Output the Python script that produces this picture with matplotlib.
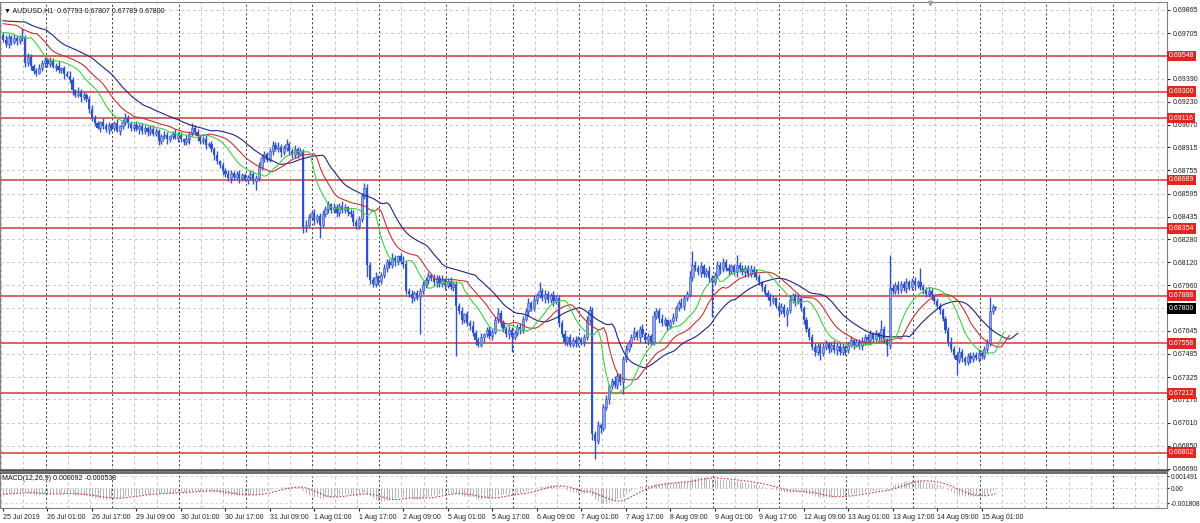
import numpy as np
import matplotlib
matplotlib.use('Agg')
import matplotlib.pyplot as plt
import matplotlib.transforms as mtransforms

plt.rcParams['font.family'] = ['Liberation Sans', 'DejaVu Sans']

# ---- AUDUSD H1, 25 Jul 2019 09:00 .. 15 Aug 2019, prices in pips (1e-4) ----
first_open = 6969
close_pips = [
    6966, 6963, 6968, 6964, 6967, 6965, 6968, 6967, 6950, 6954, 6948, 6944, 6943, 6946, 6950, 6952, 6949, 6951, 6947, 6948,
    6945, 6946, 6942, 6941, 6938, 6931, 6928, 6930, 6926, 6928, 6925, 6918, 6912, 6908, 6905, 6909, 6906, 6904, 6907, 6905,
    6908, 6903, 6906, 6909, 6912, 6908, 6905, 6907, 6904, 6906, 6903, 6905, 6902, 6904, 6901, 6903, 6896, 6899, 6900, 6897,
    6899, 6901, 6898, 6900, 6897, 6895, 6897, 6901, 6905, 6902, 6899, 6896, 6897, 6893, 6894, 6890, 6886, 6882, 6879, 6875,
    6873, 6870, 6874, 6871, 6873, 6870, 6872, 6869, 6871, 6873, 6868, 6870, 6878, 6884, 6887, 6883, 6889, 6893, 6890, 6892,
    6888, 6891, 6894, 6889, 6886, 6890, 6887, 6889, 6836, 6838, 6843, 6846, 6841, 6844, 6838, 6845, 6849, 6852, 6848, 6850,
    6846, 6851, 6848, 6850, 6847, 6845, 6840, 6837, 6842, 6858, 6863, 6810, 6800, 6797, 6802, 6799, 6803, 6808, 6812, 6810,
    6815, 6812, 6816, 6813, 6811, 6792, 6790, 6787, 6791, 6788, 6792, 6796, 6800, 6803, 6801, 6798, 6801, 6797, 6800, 6796,
    6799, 6795, 6797, 6782, 6778, 6772, 6776, 6770, 6768, 6763, 6758, 6755, 6760, 6762, 6765, 6761, 6764, 6772, 6777, 6770,
    6766, 6762, 6765, 6760, 6763, 6767, 6765, 6773, 6778, 6784, 6780, 6786, 6789, 6792, 6787, 6790, 6786, 6789, 6785, 6787,
    6770, 6762, 6757, 6760, 6755, 6758, 6756, 6759, 6757, 6760, 6772, 6779, 6693, 6688, 6699, 6697, 6712, 6717, 6726, 6730,
    6727, 6733, 6729, 6745, 6752, 6756, 6760, 6764, 6760, 6766, 6762, 6758, 6761, 6757, 6775, 6778, 6773, 6770, 6772, 6768,
    6771, 6774, 6780, 6784, 6782, 6787, 6790, 6802, 6810, 6808, 6805, 6809, 6804, 6806, 6801, 6798, 6803, 6810, 6807, 6812,
    6808, 6806, 6809, 6805, 6810, 6807, 6805, 6808, 6804, 6807, 6805, 6802, 6798, 6795, 6791, 6788, 6785, 6787, 6782, 6778,
    6781, 6776, 6779, 6786, 6789, 6785, 6787, 6780, 6772, 6766, 6760, 6753, 6750, 6754, 6749, 6753, 6756, 6752, 6755, 6751,
    6754, 6750, 6753, 6751, 6755, 6758, 6755, 6757, 6754, 6757, 6760, 6758, 6762, 6759, 6763, 6760, 6766, 6758, 6755, 6794,
    6792, 6796, 6793, 6797, 6794, 6798, 6795, 6799, 6796, 6798, 6795, 6793, 6790, 6792, 6789, 6785, 6782, 6779, 6773, 6765,
    6757, 6752, 6748, 6744, 6750, 6746, 6743, 6747, 6745, 6748, 6746, 6749, 6747, 6752, 6756, 6778, 6781, 6780,
]
# wick lengths above / below the body, in pips
wick_up = [
    2, 3, 2, 1, 3, 2, 1, 6, 2, 3, 2, 1, 2, 3, 2, 2, 1, 3, 2, 2,
    3, 1, 2, 2, 3, 2, 1, 3, 2, 2, 1, 2, 3, 2, 2, 1, 3, 2, 2, 1,
    2, 3, 1, 2, 3, 2, 2, 1, 3, 2, 2, 2, 1, 3, 2, 2, 1, 2, 3, 2,
    1, 2, 3, 2, 2, 1, 3, 2, 3, 2, 2, 1, 2, 3, 1, 2, 2, 3, 1, 2,
    2, 3, 2, 1, 2, 3, 2, 2, 1, 3, 2, 2, 3, 2, 2, 1, 2, 3, 2, 3,
    2, 2, 3, 1, 2, 3, 2, 2, 1, 3, 2, 2, 3, 1, 2, 3, 2, 2, 1, 3,
    2, 2, 3, 2, 1, 2, 3, 2, 2, 2, 4, 3, 2, 2, 3, 1, 2, 3, 2, 2,
    3, 2, 1, 2, 3, 2, 2, 3, 1, 2, 2, 3, 2, 2, 1, 3, 2, 2, 3, 1,
    2, 3, 2, 2, 2, 3, 1, 2, 2, 3, 2, 2, 3, 1, 2, 3, 2, 2, 3, 2,
    2, 1, 3, 2, 2, 2, 3, 2, 2, 3, 1, 3, 2, 6, 2, 3, 2, 2, 3, 2,
    2, 2, 3, 1, 2, 2, 3, 2, 1, 2, 3, 3, 2, 2, 3, 2, 2, 3, 2, 2,
    3, 2, 2, 2, 3, 2, 2, 3, 1, 2, 3, 2, 2, 1, 3, 2, 2, 3, 2, 1,
    2, 3, 2, 2, 3, 2, 2, 4, 10, 3, 2, 3, 2, 2, 3, 2, 2, 3, 2, 3,
    2, 3, 2, 2, 7, 2, 3, 2, 2, 3, 2, 2, 2, 1, 2, 2, 3, 2, 1, 2,
    3, 2, 2, 3, 2, 2, 3, 1, 2, 2, 1, 2, 3, 2, 2, 3, 2, 1, 2, 3,
    2, 2, 3, 2, 2, 3, 1, 2, 2, 3, 2, 2, 3, 2, 2, 1, 6, 2, 2, 23,
    3, 2, 3, 2, 2, 3, 2, 2, 3, 2, 10, 2, 2, 3, 2, 1, 2, 2, 1, 2,
    2, 3, 2, 2, 3, 2, 1, 2, 3, 2, 2, 3, 2, 2, 3, 10, 2, 1,
]
wick_dn = [
    2, 2, 3, 2, 1, 3, 2, 2, 3, 2, 3, 2, 2, 1, 2, 3, 2, 2, 1, 3,
    2, 2, 3, 1, 2, 3, 2, 2, 3, 2, 2, 3, 2, 2, 1, 3, 2, 2, 3, 2,
    2, 1, 3, 2, 2, 3, 2, 2, 1, 3, 2, 2, 3, 2, 2, 2, 3, 2, 2, 3,
    2, 2, 1, 3, 2, 2, 2, 3, 2, 2, 3, 2, 2, 3, 1, 2, 3, 2, 2, 3,
    2, 2, 3, 2, 2, 3, 2, 1, 3, 2, 2, 6, 2, 2, 3, 2, 2, 3, 1, 2,
    3, 2, 2, 3, 2, 2, 3, 1, 4, 3, 2, 2, 3, 2, 9, 2, 2, 3, 2, 2,
    3, 2, 2, 2, 3, 2, 3, 2, 2, 2, 2, 8, 3, 2, 2, 3, 2, 2, 3, 2,
    2, 3, 2, 2, 3, 2, 2, 3, 2, 2, 26, 2, 2, 3, 2, 2, 3, 2, 2, 3,
    2, 2, 3, 35, 2, 3, 2, 2, 3, 2, 3, 2, 2, 3, 2, 2, 3, 2, 2, 3,
    2, 2, 3, 10, 2, 2, 3, 2, 2, 3, 2, 2, 3, 2, 2, 3, 2, 2, 3, 2,
    3, 2, 2, 3, 2, 2, 3, 2, 2, 3, 2, 2, 4, 12, 2, 3, 2, 2, 3, 2,
    2, 3, 2, 8, 2, 2, 3, 2, 2, 3, 2, 2, 3, 2, 2, 2, 3, 2, 2, 3,
    2, 2, 3, 2, 2, 3, 2, 2, 3, 2, 2, 3, 2, 2, 3, 24, 2, 2, 3, 2,
    2, 3, 2, 2, 3, 2, 2, 3, 2, 2, 3, 2, 2, 3, 2, 2, 3, 2, 2, 3,
    2, 2, 8, 2, 2, 3, 2, 2, 3, 2, 2, 2, 3, 2, 5, 2, 2, 3, 2, 2,
    3, 2, 2, 3, 2, 2, 3, 2, 2, 3, 2, 2, 3, 2, 2, 3, 2, 2, 8, 3,
    2, 2, 3, 2, 2, 3, 2, 2, 3, 2, 2, 3, 2, 2, 3, 2, 2, 3, 2, 2,
    3, 2, 2, 10, 2, 3, 2, 2, 3, 2, 2, 3, 2, 2, 3, 2, 2, 1,
]

date_labels = ['25 Jul 2019', '26 Jul 01:00', '26 Jul 17:00', '29 Jul 09:00', '30 Jul 01:00',
               '30 Jul 17:00', '31 Jul 09:00', '1 Aug 01:00', '1 Aug 17:00', '2 Aug 09:00',
               '5 Aug 01:00', '5 Aug 17:00', '6 Aug 09:00', '7 Aug 01:00', '7 Aug 17:00',
               '8 Aug 09:00', '9 Aug 01:00', '9 Aug 17:00', '12 Aug 09:00', '13 Aug 01:00',
               '13 Aug 17:00', '14 Aug 09:00', '15 Aug 01:00']
price_grid = [0.69865, 0.69705, 0.69545, 0.69390, 0.69230, 0.69070, 0.68915, 0.68755, 0.68595,
              0.68435, 0.68280, 0.68120, 0.67960, 0.67800, 0.67645, 0.67485, 0.67325, 0.67170,
              0.67010, 0.66850, 0.66690]
hidden_ticks = [0.69545, 0.67800]
levels = [0.69548, 0.69300, 0.69116, 0.68689, 0.68354, 0.67888, 0.67558, 0.67212, 0.66802]
last_price = 0.67800
title = '\u25bc AUDUSD,H1  0.67793 0.67807 0.67789 0.67800'
macd_title = 'MACD(12,26,9) 0.000092 -0.000538'
macd_ticks = [0.001491, 0.0, -0.001808]
macd_tick_labels = ['0.001491', '0.00', '-0.001808']

# indicator values at the left edge
jaw_seed, teeth_seed, lips_seed = 0.6979, 0.6977, 0.6971
macd_seed = -0.0008

# ---- derived series ----
close = np.array(close_pips) / 10000
open_ = np.array([first_open] + close_pips[:-1]) / 10000
high = np.maximum(open_, close) + np.array(wick_up) / 10000
low = np.minimum(open_, close) - np.array(wick_dn) / 10000
idx = np.arange(len(close))
median = (high + low) / 2


def smma(values, n, seed):
    out = []
    prev = seed
    for v in values:
        prev = (prev * (n - 1) + v) / n
        out.append(prev)
    return np.array(out)


def ema(values, n, seed):
    a = 2.0 / (n + 1)
    out = []
    prev = seed
    for v in values:
        prev = prev + a * (v - prev)
        out.append(prev)
    return np.array(out)


jaw = smma(median, 13, jaw_seed)
teeth = smma(median, 8, teeth_seed)
lips = smma(median, 5, lips_seed)

macd = ema(close, 12, close[0]) - ema(close, 26, close[0] - macd_seed)
signal = np.array([macd[max(0, k - 8):k + 1].mean() for k in range(len(macd))])

# ---- figure ----
fig = plt.figure(figsize=(12, 5.23), dpi=100)
ax = fig.add_axes([0.0, 1 - 470 / 523, 1167 / 1200, 468 / 523])
ax2 = fig.add_axes([0.0, 1 - 508 / 523, 1167 / 1200, 35 / 523])

px_per_bar = 2.78
x_left = -3 / px_per_bar
x_right = 1164 / px_per_bar
for a in (ax, ax2):
    a.set_xlim(x_left, x_right)
    for s in a.spines.values():
        s.set_color('#808080')
        s.set_linewidth(0.8)

ax.set_ylim(0.66682, 0.69920)
ax2.set_ylim(-0.002419, 0.001858)

# grid
for k in range(60):
    gx = -0.7 + 8 * k
    if gx > x_right:
        break
    dark = (k - 2) % 3 == 0
    for a in (ax, ax2):
        if dark:
            a.axvline(gx, color='#303030', lw=0.7, ls=(0, (2, 2.5)), zorder=1)
        else:
            a.axvline(gx, color='#c4c4c4', lw=0.7, ls=(0, (3, 3)), zorder=1)
for p in price_grid:
    ax.axhline(p, color='#c8c8c8', lw=0.7, ls=(0, (3, 3)), zorder=1)
for p in macd_ticks:
    ax2.axhline(p, color='#d0d0d0', lw=0.6, ls=(0, (3, 3)), zorder=1)

# horizontal levels
for lv in levels:
    ax.axhline(lv, color='#cf3a3a', lw=1.1, zorder=2)

# candles
bull = close >= open_
ax.vlines(idx, low, high, color='#3052c8', lw=1.0, zorder=3)
ax.bar(idx[bull], (close - open_)[bull], bottom=open_[bull], width=0.8,
       color='#8ea4e4', edgecolor='#3052c8', linewidth=0.4, zorder=4)
ax.bar(idx[~bull], (close - open_)[~bull], bottom=open_[~bull], width=0.8,
       color='#3052c8', linewidth=0, zorder=4)

# alligator lines (jaw/teeth/lips, shifted 8/5/3 bars)
ax.plot(np.concatenate([[0], idx + 8]), np.concatenate([[jaw_seed], jaw]), color='#23237e', lw=0.8, zorder=5)
ax.plot(np.concatenate([[0], idx + 5]), np.concatenate([[teeth_seed], teeth]), color='#c03535', lw=0.8, zorder=5)
ax.plot(np.concatenate([[0], idx + 3]), np.concatenate([[lips_seed], lips]), color='#45cc45', lw=0.8, zorder=5)

# price axis
ax.yaxis.tick_right()
ax.set_yticks(price_grid)
ax.set_yticklabels(['' if p in hidden_ticks else '%.5f' % p for p in price_grid])
ax.tick_params(axis='y', labelsize=5, length=2, pad=2, colors='#202020')
ax.set_xticks([])

trans = mtransforms.blended_transform_factory(ax.transAxes, ax.transData)
for lv in levels:
    ax.text(1.0015, lv, '%.5f' % lv, transform=trans, fontsize=5, color='white',
            va='center', ha='left', zorder=6,
            bbox=dict(boxstyle='square,pad=0.25', fc='#e2261f', ec='none'))
ax.text(1.0015, last_price, '%.5f' % last_price, transform=trans, fontsize=5, color='white',
        va='center', ha='left', zorder=6,
        bbox=dict(boxstyle='square,pad=0.25', fc='black', ec='none'))

ax.text(0.003, 0.99, title, transform=ax.transAxes, fontsize=5, va='top', ha='left', color='#111111')
ax.plot([333.5], [0.69915], marker='v', ms=3, color='#a0a0a0', clip_on=False, zorder=6)

ax.spines['bottom'].set_color('#505050')
ax.spines['bottom'].set_linewidth(1.8)
ax2.spines['top'].set_color('#505050')
ax2.spines['top'].set_linewidth(1.2)

# MACD panel
ax2.vlines(idx, 0, macd, color='#b4b4b4', lw=0.7, zorder=3)
ax2.plot(idx, signal, color='#c04040', lw=0.8, ls=(0, (1.5, 1.5)), zorder=4)
ax2.yaxis.tick_right()
ax2.set_yticks(macd_ticks)
ax2.set_yticklabels(macd_tick_labels)
ax2.tick_params(axis='y', labelsize=4.8, length=1.5, pad=1, colors='#202020')
ax2.set_xticks(idx[::16][:len(date_labels)])
ax2.set_xticklabels(date_labels, ha='left')
ax2.tick_params(axis='x', labelsize=5, length=2, pad=2, colors='#202020')
ax2.text(0.002, 0.83, macd_title, transform=ax2.transAxes, fontsize=5, va='center', ha='left', color='#111111')

fig.savefig('out.png', dpi=100)
